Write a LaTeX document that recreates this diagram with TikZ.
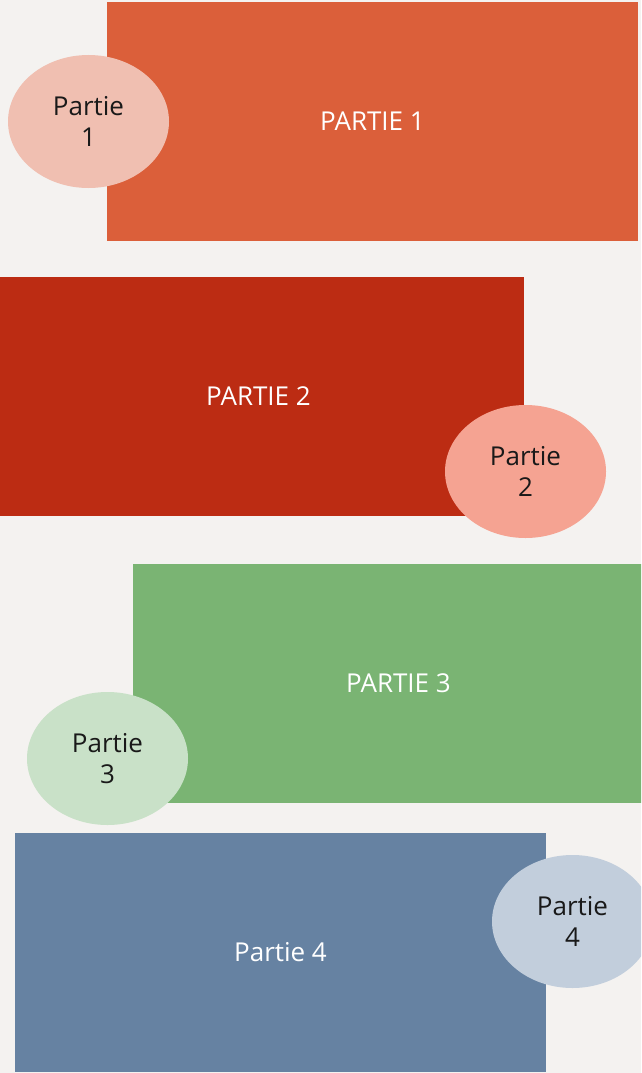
\documentclass[tikz,border=0pt]{standalone}
\usepackage{fontspec}
\setmainfont{Open Sans}
\usetikzlibrary{shapes.geometric}
\definecolor{pagebg}{HTML}{F4F2F0}
\definecolor{blockA}{HTML}{DB5F3A}
\definecolor{blockB}{HTML}{BC2C13}
\definecolor{blockC}{HTML}{7AB473}
\definecolor{blockD}{HTML}{6682A2}
\definecolor{bubbleA}{HTML}{F0BFB1}
\definecolor{bubbleB}{HTML}{F5A392}
\definecolor{bubbleC}{HTML}{C9E1C8}
\definecolor{bubbleD}{HTML}{C2CEDC}

\begin{document}
\begin{tikzpicture}[x=1pt,y=-1pt,
    block/.style={rectangle,minimum width=531pt,minimum height=239pt,inner sep=0pt,
        text=white,font=\fontsize{26}{30}\selectfont},
    bubble/.style={ellipse,minimum width=161pt,minimum height=133pt,inner sep=0pt,
        align=center,text=black!90,font=\fontsize{26}{31}\selectfont}]
    % Page
    \useasboundingbox (0,0) rectangle (641,1073);
    \clip (0,0) rectangle (641,1073);
    \fill[pagebg] (0,0) rectangle (641,1073);

    % Part 1
    \node[block,fill=blockA] (part1) at (372.5,121.5) {PARTIE 1};
    \node[bubble,fill=bubbleA] (tag1) at (88.5,121.5) {Partie\\1};

    % Part 2
    \node[block,fill=blockB] (part2) at (258.5,396) {PARTIE 2};
    \node[bubble,fill=bubbleB] (tag2) at (525.5,471.5) {Partie\\2};

    % Part 3
    \node[block,fill=blockC] (part3) at (398.5,683.5) {PARTIE 3};
    \node[bubble,fill=bubbleC] (tag3) at (107.5,758.5) {Partie\\3};

    % Part 4
    \node[block,fill=blockD] (part4) at (280.5,952.5) {Partie 4};
    \node[bubble,fill=bubbleD] (tag4) at (572.5,921.5) {Partie\\4};
\end{tikzpicture}
\end{document}
